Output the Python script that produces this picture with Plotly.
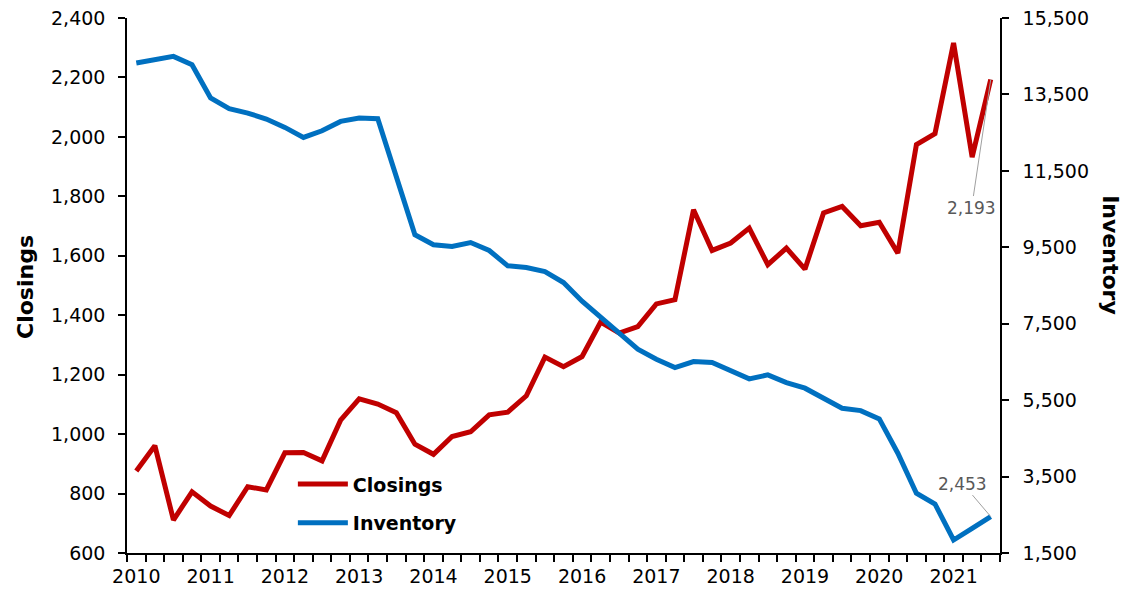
import plotly.graph_objects as go

# quarterly data, 2010 Q1 - 2021 Q3
quarters = list(range(47))
years = [str(y) for y in range(2010, 2022)]
year_pos = [i * 4 for i in range(12)]

closings = [876, 961, 711, 806, 758, 726, 823, 812, 937, 938, 910, 1047,
            1119, 1101, 1072, 966, 932, 992, 1008, 1065, 1074, 1129, 1259, 1227,
            1261, 1377, 1340, 1362, 1438, 1452, 1755, 1618, 1643, 1693, 1570, 1626,
            1555, 1744, 1766, 1701, 1713, 1609, 1974, 2011, 2316, 1932, 2193]

inventory = [14323, 14409, 14496, 14278, 13406, 13126, 13013, 12856, 12637, 12375, 12550, 12794,
             12882, 12864, 11353, 9827, 9565, 9520, 9625, 9416, 9015, 8971, 8866, 8578,
             8090, 7688, 7252, 6833, 6572, 6353, 6509, 6483, 6273, 6056, 6161, 5960,
             5813, 5551, 5289, 5226, 5009, 4111, 3063, 2783, 1840, 2147, 2453]

RED = "#C00000"
BLUE = "#0070C0"
FONT = "DejaVu Sans"

fig = go.Figure()
fig.add_trace(go.Scatter(x=quarters, y=closings, name="Closings", mode="lines",
                         line=dict(color=RED, width=5), legendgroup="a"))
fig.add_trace(go.Scatter(x=quarters, y=inventory, name="Inventory", mode="lines",
                         line=dict(color=BLUE, width=5), yaxis="y2", legendgroup="b"))

# the page body adds an 8px offset, margins are set to compensate
fig.update_layout(
    width=1132, height=592,
    margin=dict(l=119, r=140, t=10, b=47),
    plot_bgcolor="white", paper_bgcolor="white",
    font=dict(family=FONT, size=19, color="black"),
    xaxis=dict(
        range=[-0.5, 46.5], tickvals=year_pos, ticktext=years, ticks="",
        ticklabelstandoff=5, automargin=False,
        showgrid=False, zeroline=False, showline=True, linecolor="black", linewidth=1.5,
        minor=dict(tickmode="linear", tick0=-0.5, dtick=1, ticks="outside",
                   ticklen=7, tickwidth=1.5, tickcolor="black", showgrid=False),
    ),
    yaxis=dict(
        range=[600, 2400], dtick=200, tickformat=",", ticks="outside", ticklen=7,
        tickwidth=1.5, tickcolor="black", showgrid=False, zeroline=False,
        ticklabelstandoff=9, automargin=False, ticklabeloverflow="allow",
        showline=True, linecolor="black", linewidth=1.5,
    ),
    yaxis2=dict(
        range=[1500, 15500], tick0=1500, dtick=2000, tickformat=",", overlaying="y",
        side="right", ticks="outside", ticklen=7, tickwidth=1.5, tickcolor="black",
        ticklabelstandoff=10, automargin=False, ticklabeloverflow="allow",
        showgrid=False, zeroline=False, showline=True, linecolor="black", linewidth=1.5,
    ),
    legend=dict(x=0.19, y=0.164, xanchor="left", yanchor="top", bgcolor="rgba(0,0,0,0)",
                font=dict(family=FONT, size=19, weight="bold"), itemwidth=50,
                traceorder="grouped", tracegroupgap=11),
    showlegend=True,
)

fig.add_annotation(text="<b>Closings</b>", xref="paper", yref="paper", x=-0.117, y=0.497,
                   xanchor="center", yanchor="middle",
                   textangle=-90, showarrow=False, font=dict(size=22))
fig.add_annotation(text="<b>Inventory</b>", xref="paper", yref="paper", x=1.127, y=0.557,
                   xanchor="center", yanchor="middle",
                   textangle=90, showarrow=False, font=dict(size=22))

fig.add_annotation(text="2,193", x=46, y=closings[-1], xref="x", yref="y",
                   showarrow=True, arrowhead=0, arrowwidth=1, arrowcolor="#a0a0a0",
                   ax=-19, ay=128, font=dict(size=17, color="#595959"))
fig.add_annotation(text="2,453", x=46, y=inventory[-1], xref="x", yref="y2",
                   showarrow=True, arrowhead=0, arrowwidth=1, arrowcolor="#a0a0a0",
                   ax=-28, ay=-33, font=dict(size=17, color="#595959"))

fig.write_html("out.html")
